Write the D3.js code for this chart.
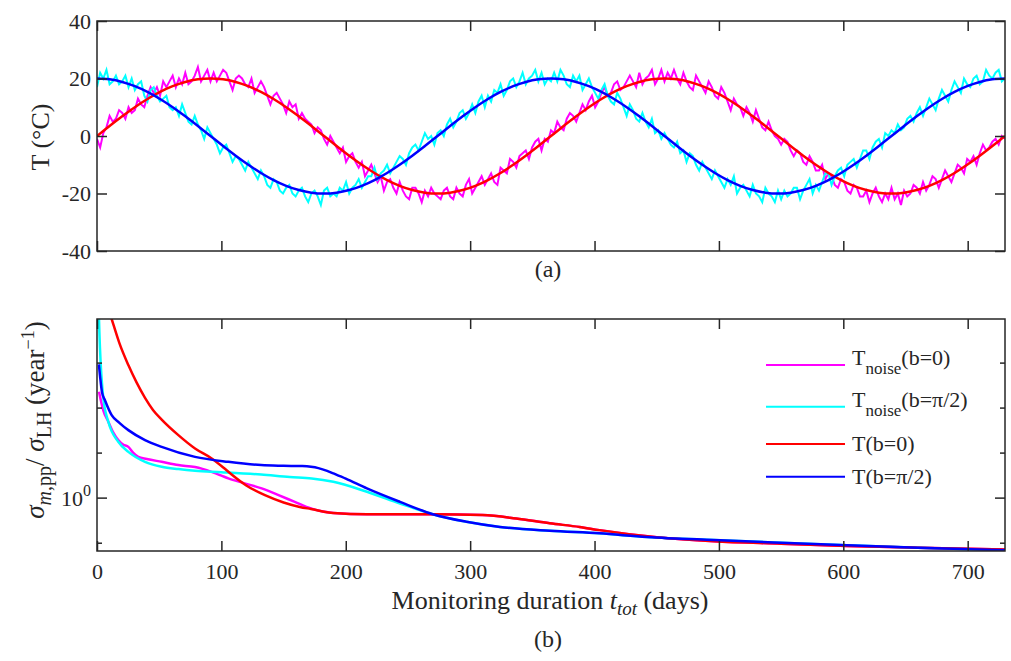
<!DOCTYPE html>
<html>
<head>
<meta charset="utf-8">
<script src="https://cdn.jsdelivr.net/npm/d3@7"></script>
<style>
body { margin: 0; background: #fff; }
text { font-family: 'Liberation Serif', 'DejaVu Serif', serif; fill: #262626; }
</style>
</head>
<body>
<div id="chart"></div>
<script>
var width = 1011, height = 661;
var left = 97, right = 1005;
var topA = 21, bottomA = 251;
var topB = 319, bottomB = 551;

// panel (a): temperatures, one value every 365/144 days
var tNoiseB0 = [
	-1,-4,1,3,7,5,6,9,8,6,10,8,9,13,11,10,14,17,15,17,14,19,17,19,21,17,20,18,22,18,19,21,24,19,21,23,19,
	22,19,21,23,22,19,16,20,21,20,18,17,20,15,17,19,17,14,11,14,15,13,11,8,12,10,11,6,8,6,5,4,1,3,2,-1,
	-3,0,-2,-4,-6,-4,-9,-7,-6,-9,-11,-9,-14,-12,-10,-13,-16,-14,-19,-16,-15,-18,-20,-16,-19,-21,-22,-18,-18,-20,-23,-19,-21,-18,-20,-21,
	-22,-19,-18,-21,-22,-18,-20,-21,-17,-15,-20,-18,-16,-14,-17,-15,-13,-16,-17,-11,-12,-13,-8,-9,-11,-7,-6,-5,-8,-4,-2,-1,-5,-1,-2,2,
	1,5,3,2,6,8,7,5,8,11,9,12,14,10,12,15,17,14,15,18,19,16,17,19,21,19,17,22,18,20,21,23,18,20,23,19,
	22,20,23,20,18,22,19,17,16,21,19,17,15,19,17,14,13,17,15,12,9,13,11,10,7,10,8,5,9,6,3,2,5,2,0,-1,
	-3,-1,-2,-5,-7,-5,-6,-9,-10,-7,-9,-12,-12,-10,-15,-13,-14,-17,-18,-15,-16,-19,-20,-17,-18,-21,-21,-19,-23,-20,-18,-21,-23,-20,-22,-18,
	-22,-20,-24,-19,-21,-20,-17,-18,-20,-16,-19,-17,-14,-15,-18,-15,-12,-14,-16,-13,-10,-11,-13,-8,-9,-7,-10,-6,-3,-5,-4,-2,-1,-3,0,-1
];
var tNoiseBpi2 = [
	17,22,20,23,18,19,21,18,19,21,17,20,16,18,19,14,12,16,17,14,12,13,14,10,9,10,7,11,8,5,4,7,4,2,-1,3,1,
	-1,-3,-6,-4,-3,-6,-9,-7,-8,-10,-12,-9,-11,-13,-15,-12,-14,-17,-18,-15,-16,-19,-20,-18,-17,-20,-21,-19,-18,-21,-23,-20,-19,-21,-24,-19,
	-18,-21,-20,-21,-18,-19,-16,-20,-18,-17,-15,-18,-16,-14,-14,-11,-15,-13,-12,-10,-13,-11,-9,-7,-8,-10,-6,-4,-3,-5,-2,1,-1,0,-3,1,
	2,0,4,6,3,5,8,9,6,8,11,8,12,14,10,14,12,16,15,18,14,16,19,20,17,19,22,18,20,21,23,19,22,18,20,19,
	22,19,23,21,18,17,21,19,21,16,18,20,17,15,13,16,18,14,12,11,15,13,10,7,11,9,6,5,8,5,3,6,1,2,-1,1,
	-1,-3,-4,-2,-6,-5,-9,-6,-7,-10,-12,-9,-11,-13,-15,-12,-14,-16,-18,-15,-17,-14,-20,-18,-17,-19,-21,-17,-20,-21,-23,-18,-20,-21,-23,-19,
	-22,-19,-21,-20,-18,-18,-22,-19,-17,-15,-20,-17,-19,-16,-13,-13,-17,-14,-12,-11,-14,-10,-9,-8,-11,-8,-5,-5,-8,-4,-2,-1,-4,1,0,2,
	1,4,2,3,6,7,5,8,10,7,10,13,11,9,13,16,14,12,16,19,17,15,20,18,17,20,21,18,19,23,21,20,22,23,19,20
];
// smooth temperatures, one value every 365/36 days
var tB0 = [
	0,3.47,6.84,10,12.86,15.32,17.32,18.79,19.7,20,19.7,18.79,17.32,15.32,12.86,10,6.84,3.47,
	0,-3.47,-6.84,-10,-12.86,-15.32,-17.32,-18.79,-19.7,-20,-19.7,-18.79,-17.32,-15.32,-12.86,-10,-6.84,-3.47,
	0,3.47,6.84,10,12.86,15.32,17.32,18.79,19.7,20,19.7,18.79,17.32,15.32,12.86,10,6.84,3.47,
	0,-3.47,-6.84,-10,-12.86,-15.32,-17.32,-18.79,-19.7,-20,-19.7,-18.79,-17.32,-15.32,-12.86,-10,-6.84,-3.47,0
];
var tBpi2 = [
	20,19.7,18.79,17.32,15.32,12.86,10,6.84,3.47,0,-3.47,-6.84,-10,-12.86,-15.32,-17.32,-18.79,-19.7,
	-20,-19.7,-18.79,-17.32,-15.32,-12.86,-10,-6.84,-3.47,0,3.47,6.84,10,12.86,15.32,17.32,18.79,19.7,
	20,19.7,18.79,17.32,15.32,12.86,10,6.84,3.47,0,-3.47,-6.84,-10,-12.86,-15.32,-17.32,-18.79,-19.7,
	-20,-19.7,-18.79,-17.32,-15.32,-12.86,-10,-6.84,-3.47,0,3.47,6.84,10,12.86,15.32,17.32,18.79,19.7,20
];
var tempTicks = [-40, -20, 0, 20, 40];
var dayTicks = [0, 100, 200, 300, 400, 500, 600, 700];

// panel (b): sigma ratio against monitoring duration
var daysNoiseB0 = [1.6,5,9.1,13,17.1,21,25.2,29,33.2,40,52,65.4,78.8,92,100,105.6,118,132.4,145,159,172,190,217,270,310,337,364,388,404,450,496,550,603,660,730];
var ratioNoiseB0 = [1.723,1.569,1.478,1.40,1.346,1.315,1.300,1.262,1.235,1.222,1.204,1.184,1.172,1.144,1.122,1.106,1.08,1.051,1.018,0.981,0.948,0.927,0.921,0.921,0.917,0.901,0.879,0.863,0.849,0.819,0.802,0.792,0.783,0.776,0.769];
var daysNoiseBpi2 = [0.8,1.6,2.4,5.1,9.1,17.1,25.2,38.6,52,65.4,78.8,100,132,155,172.6,190,217,243.6,270,297,324,364,404,442,496,550,603,660,730];
var ratioNoiseBpi2 = [3.2,2.5,2.152,1.665,1.478,1.334,1.267,1.204,1.174,1.16,1.15,1.142,1.128,1.114,1.106,1.087,1.033,0.973,0.921,0.886,0.863,0.846,0.835,0.820,0.807,0.796,0.786,0.776,0.766];
var daysB0 = [4,8,11.8,18,25.2,31.9,38.6,45,52,65.4,78.8,92.2,101.5,108,120,135,150,163,172,190,217,270,310,337,364,388,404,450,496,550,603,660,730];
var ratioB0 = [2.97,2.70,2.50,2.21,1.975,1.805,1.670,1.570,1.494,1.380,1.289,1.225,1.170,1.130,1.067,1.015,0.978,0.956,0.946,0.927,0.921,0.921,0.917,0.901,0.879,0.863,0.849,0.819,0.802,0.792,0.783,0.776,0.769];
var daysBpi2 = [1.5,2.5,4,6.4,11.8,18,25.2,38.6,52,78.8,105.6,132,150,165,172,178,185,190,200,217,243.6,270,297,324,364,404,442,496,550,603,660,730];
var ratioBpi2 = [1.982,1.86,1.72,1.65,1.529,1.47,1.416,1.346,1.300,1.235,1.204,1.184,1.180,1.178,1.174,1.166,1.150,1.135,1.105,1.051,0.981,0.921,0.886,0.863,0.846,0.835,0.820,0.807,0.796,0.786,0.776,0.766];
var ratioTicks = [0.794, 1, 1.259, 1.585, 1.995];

var colNoiseB0 = '#ff00ff', colNoiseBpi2 = '#00ffff', colB0 = '#ff0000', colBpi2 = '#0000ff';
var axisColor = '#262626';

var svg = d3.select('#chart')
			.append('svg')
			.attr('width', width)
			.attr('height', height);

var x_scale = d3.scaleLinear().domain([0, 730]).range([left, right]);
var yA = d3.scaleLinear().domain([-40, 40]).range([bottomA, topA]);
var yB = d3.scaleLog().domain([0.763, 2.5]).range([bottomB, topB]);

var defs = svg.append('defs');
defs.append('clipPath').attr('id', 'clipA').append('rect')
	.attr('x', left).attr('y', topA).attr('width', right - left).attr('height', bottomA - topA);
defs.append('clipPath').attr('id', 'clipB').append('rect')
	.attr('x', left).attr('y', topB).attr('width', right - left).attr('height', bottomB - topB);

function styleAxis(g) {
	g.select('.domain').remove();
	g.style('color', axisColor)
		.attr('font-family', "'Liberation Serif', serif")
		.attr('font-size', 22);
	g.selectAll('line').attr('stroke-width', 1.5);
}

// ---- panel (a)
var plotA = svg.append('g').attr('clip-path', 'url(#clipA)');

var noiseLine = d3.line()
	.x(function(d, i){ return x_scale(i * 365 / 144); })
	.y(function(d){ return yA(d); });
var smoothLine = d3.line()
	.x(function(d, i){ return x_scale(i * 365 / 36); })
	.y(function(d){ return yA(d); })
	.curve(d3.curveCatmullRom);

plotA.append('path').attr('d', noiseLine(tNoiseB0))
	.attr('fill', 'none').attr('stroke', colNoiseB0).attr('stroke-width', 2);
plotA.append('path').attr('d', noiseLine(tNoiseBpi2))
	.attr('fill', 'none').attr('stroke', colNoiseBpi2).attr('stroke-width', 2);
plotA.append('path').attr('d', smoothLine(tB0))
	.attr('fill', 'none').attr('stroke', colB0).attr('stroke-width', 2.5);
plotA.append('path').attr('d', smoothLine(tBpi2))
	.attr('fill', 'none').attr('stroke', colBpi2).attr('stroke-width', 2.5);

svg.append('g')
	.attr('transform', 'translate(0,' + bottomA + ')')
	.call(d3.axisBottom(x_scale).tickValues(dayTicks).tickSize(-10).tickFormat(''))
	.call(styleAxis);
svg.append('g')
	.attr('transform', 'translate(0,' + topA + ')')
	.call(d3.axisTop(x_scale).tickValues(dayTicks).tickSize(-10).tickFormat(''))
	.call(styleAxis);
svg.append('g')
	.attr('transform', 'translate(' + left + ',0)')
	.call(d3.axisLeft(yA).tickValues(tempTicks).tickSize(-10).tickPadding(6)
		.tickFormat(function(d){ return String(d); }))
	.call(styleAxis);
svg.append('g')
	.attr('transform', 'translate(' + right + ',0)')
	.call(d3.axisRight(yA).tickValues(tempTicks).tickSize(-10).tickFormat(''))
	.call(styleAxis);

svg.append('rect')
	.attr('x', left).attr('y', topA).attr('width', right - left).attr('height', bottomA - topA)
	.attr('fill', 'none').attr('stroke', axisColor).attr('stroke-width', 1.5);

svg.append('text')
	.attr('transform', 'translate(49,137) rotate(-90)')
	.attr('text-anchor', 'middle')
	.attr('font-size', 26)
	.text('T (°C)');

svg.append('text')
	.attr('x', 548).attr('y', 277)
	.attr('text-anchor', 'middle')
	.attr('font-size', 24)
	.text('(a)');

// ---- panel (b)
var plotB = svg.append('g').attr('clip-path', 'url(#clipB)');

var ratioLine = d3.line()
	.x(function(d){ return x_scale(d[0]); })
	.y(function(d){ return yB(d[1]); })
	.curve(d3.curveMonotoneX);

var seriesB = [
	{days: daysNoiseB0, vals: ratioNoiseB0, color: colNoiseB0, name: 'noise', b: '(b=0)'},
	{days: daysNoiseBpi2, vals: ratioNoiseBpi2, color: colNoiseBpi2, name: 'noise', b: '(b=π/2)'},
	{days: daysB0, vals: ratioB0, color: colB0, name: '', b: '(b=0)'},
	{days: daysBpi2, vals: ratioBpi2, color: colBpi2, name: '', b: '(b=π/2)'}
];

seriesB.forEach(function(s){
	plotB.append('path')
		.attr('d', ratioLine(d3.zip(s.days, s.vals)))
		.attr('fill', 'none')
		.attr('stroke', s.color)
		.attr('stroke-width', 2.5);
});

svg.append('g')
	.attr('transform', 'translate(0,' + bottomB + ')')
	.call(d3.axisBottom(x_scale).tickValues(dayTicks).tickSize(-10).tickPadding(12))
	.call(styleAxis);
svg.append('g')
	.attr('transform', 'translate(0,' + topB + ')')
	.call(d3.axisTop(x_scale).tickValues(dayTicks).tickSize(-10).tickFormat(''))
	.call(styleAxis);

// log ticks: the labelled one is longer
[left, right].forEach(function(xe){
	var dir = xe == left ? 1 : -1;
	svg.append('g')
		.selectAll('line')
		.data(ratioTicks)
		.enter()
		.append('line')
		.attr('x1', xe)
		.attr('x2', function(d){ return xe + dir * (d == 1 ? 10 : 5); })
		.attr('y1', function(d){ return yB(d); })
		.attr('y2', function(d){ return yB(d); })
		.attr('stroke', axisColor)
		.attr('stroke-width', 1.5);
});

var lab0 = svg.append('text')
	.attr('x', left - 6).attr('y', yB(1) + 8)
	.attr('text-anchor', 'end')
	.attr('font-size', 22);
lab0.append('tspan').text('10');
lab0.append('tspan').attr('font-size', 16).attr('dy', -10).text('0');

svg.append('rect')
	.attr('x', left).attr('y', topB).attr('width', right - left).attr('height', bottomB - topB)
	.attr('fill', 'none').attr('stroke', axisColor).attr('stroke-width', 1.5);

var ylab = svg.append('text')
	.attr('transform', 'translate(44,420) rotate(-90)')
	.attr('text-anchor', 'middle')
	.attr('font-size', 27);
ylab.append('tspan').attr('font-style', 'italic').text('σ');
ylab.append('tspan').attr('font-size', 20).attr('dy', 7).attr('font-style', 'italic').text('m');
ylab.append('tspan').attr('font-size', 20).text(',pp');
ylab.append('tspan').attr('dy', -7).text('/ ');
ylab.append('tspan').attr('font-style', 'italic').text('σ');
ylab.append('tspan').attr('font-size', 20).attr('dy', 7).text('LH');
ylab.append('tspan').attr('dy', -7).text(' (year');
ylab.append('tspan').attr('font-size', 18).attr('dy', -10).text('−1');
ylab.append('tspan').attr('dy', 10).text(')');

var xlab = svg.append('text')
	.attr('x', 550).attr('y', 609)
	.attr('text-anchor', 'middle')
	.attr('font-size', 26);
xlab.append('tspan').text('Monitoring duration ');
xlab.append('tspan').attr('font-style', 'italic').text('t');
xlab.append('tspan').attr('font-style', 'italic').attr('font-size', 19).attr('dy', 6).text('tot');
xlab.append('tspan').attr('dy', -6).text(' (days)');

svg.append('text')
	.attr('x', 548).attr('y', 647)
	.attr('text-anchor', 'middle')
	.attr('font-size', 24)
	.text('(b)');

// legend
var legendRows = [365, 406.7, 444, 476.7];
var legend = svg.append('g');
seriesB.forEach(function(s, i){
	var ly = legendRows[i];
	legend.append('line')
		.attr('x1', 766).attr('x2', 845)
		.attr('y1', ly).attr('y2', ly)
		.attr('stroke', s.color)
		.attr('stroke-width', 2);
	var t = legend.append('text')
		.attr('x', 852)
		.attr('font-size', 22);
	if (s.name) {
		t.attr('y', ly);
		t.append('tspan').text('T');
		t.append('tspan').attr('font-size', 17).attr('dy', 9).text(s.name);
		t.append('tspan').attr('dy', -9).text(s.b);
	} else {
		t.attr('y', ly + 7);
		t.append('tspan').text('T' + s.b);
	}
});
</script>
</body>
</html>
